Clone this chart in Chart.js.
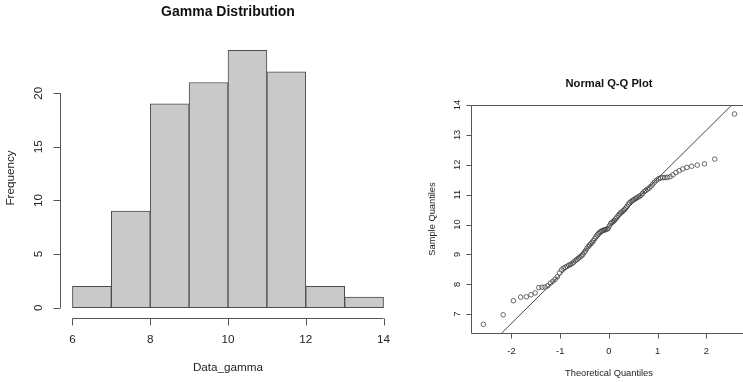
<!DOCTYPE html>
<html>
<head>
<meta charset="utf-8">
<script src="https://cdn.jsdelivr.net/npm/chart.js@4"></script>
<style>
  body { margin: 0; background: #fff; }
  #wrap { position: relative; width: 743px; height: 382px; overflow: hidden; }
  canvas { position: absolute; top: 0; }
</style>
</head>
<body>
<div id="wrap">
  <canvas id="hist" width="400" height="382" style="left:0"></canvas>
  <canvas id="qq" width="343" height="382" style="left:400px"></canvas>
</div>
<script>
// histogram data
var breaks = [6, 7, 8, 9, 10, 11, 12, 13, 14];
var counts = [2, 9, 19, 21, 24, 22, 2, 1];
var histXTicks = [6, 8, 10, 12, 14];
var histYTicks = [0, 5, 10, 15, 20];

// normal Q-Q data (sorted sample vs theoretical quantiles)
var theoretical = [
  -2.576, -2.170, -1.960, -1.812, -1.695, -1.598, -1.514, -1.440, -1.372, -1.311,
  -1.254, -1.200, -1.150, -1.103, -1.058, -1.015, -0.974, -0.935, -0.897, -0.860,
  -0.824, -0.789, -0.755, -0.723, -0.690, -0.659, -0.628, -0.598, -0.568, -0.539,
  -0.510, -0.482, -0.454, -0.426, -0.399, -0.372, -0.345, -0.319, -0.292, -0.266,
  -0.240, -0.215, -0.189, -0.164, -0.138, -0.113, -0.088, -0.063, -0.038, -0.0125,
  0.0125, 0.038, 0.063, 0.088, 0.113, 0.138, 0.164, 0.189, 0.215, 0.240,
  0.266, 0.292, 0.319, 0.345, 0.372, 0.399, 0.426, 0.454, 0.482, 0.510,
  0.539, 0.568, 0.598, 0.628, 0.659, 0.690, 0.723, 0.755, 0.789, 0.824,
  0.860, 0.897, 0.935, 0.974, 1.015, 1.058, 1.103, 1.150, 1.200, 1.254,
  1.311, 1.372, 1.440, 1.514, 1.598, 1.695, 1.812, 1.960, 2.170, 2.576
];
var sample = [
  6.66, 6.98, 7.45, 7.57, 7.58, 7.65, 7.71, 7.89, 7.90, 7.91,
  7.95, 8.04, 8.10, 8.17, 8.25, 8.38, 8.48, 8.54, 8.57, 8.60,
  8.64, 8.66, 8.70, 8.74, 8.79, 8.83, 8.87, 8.91, 8.95, 8.99,
  9.06, 9.12, 9.20, 9.26, 9.31, 9.36, 9.40, 9.46, 9.53, 9.59,
  9.65, 9.70, 9.74, 9.77, 9.79, 9.81, 9.82, 9.83, 9.85, 9.88,
  9.96, 10.04, 10.07, 10.10, 10.14, 10.19, 10.24, 10.30, 10.35, 10.39,
  10.42, 10.46, 10.50, 10.55, 10.61, 10.68, 10.73, 10.77, 10.80, 10.83,
  10.86, 10.89, 10.92, 10.95, 10.98, 11.04, 11.10, 11.14, 11.18, 11.22,
  11.28, 11.35, 11.42, 11.48, 11.53, 11.56, 11.57, 11.57, 11.58, 11.60,
  11.66, 11.74, 11.80, 11.86, 11.91, 11.95, 11.99, 12.03, 12.19, 13.70
];
var lineX = [-2.2, 2.52];
var lineY = [6.37, 14.0];
var qqXTicks = [-2, -1, 0, 1, 2];
var qqYTicks = [7, 8, 9, 10, 11, 12, 13, 14];

// draws base-graphics style axes, box and titles
var rAxes = {
  id: 'rAxes',
  afterDraw: function (chart, args, o) {
    var ctx = chart.ctx, a = chart.chartArea;
    var xs = chart.scales.x, ys = chart.scales.y;
    ctx.save();
    ctx.strokeStyle = o.lineColor;
    ctx.lineWidth = 1;
    ctx.fillStyle = o.textColor;
    ctx.font = o.font;

    var yb = Math.round(o.xAxisY) + 0.5;
    var xl = Math.round(o.yAxisX) + 0.5;

    ctx.beginPath();
    if (o.box) {
      ctx.moveTo(chart.width + 5, Math.round(a.top) + 0.5);
      ctx.lineTo(xl, Math.round(a.top) + 0.5);
      ctx.lineTo(xl, yb);
      ctx.lineTo(chart.width + 5, yb);
    } else {
      ctx.moveTo(xs.getPixelForValue(o.xTicks[0]), yb);
      ctx.lineTo(xs.getPixelForValue(o.xTicks[o.xTicks.length - 1]), yb);
      ctx.moveTo(xl, ys.getPixelForValue(o.yTicks[0]));
      ctx.lineTo(xl, ys.getPixelForValue(o.yTicks[o.yTicks.length - 1]));
    }
    o.xTicks.forEach(function (t) {
      var px = Math.round(xs.getPixelForValue(t)) + 0.5;
      ctx.moveTo(px, yb);
      ctx.lineTo(px, yb + o.tick);
    });
    o.yTicks.forEach(function (t) {
      var py = Math.round(ys.getPixelForValue(t)) + 0.5;
      ctx.moveTo(xl, py);
      ctx.lineTo(xl - o.tick, py);
    });
    ctx.stroke();

    ctx.textAlign = 'center';
    ctx.textBaseline = 'middle';
    o.xTicks.forEach(function (t) {
      ctx.fillText(String(t), xs.getPixelForValue(t), o.xLabelY);
    });
    o.yTicks.forEach(function (t) {
      ctx.save();
      ctx.translate(o.yLabelX, ys.getPixelForValue(t));
      ctx.rotate(-Math.PI / 2);
      ctx.fillText(String(t), 0, 0);
      ctx.restore();
    });

    ctx.fillText(o.xTitle, o.centerX, o.xTitleY);
    ctx.save();
    ctx.translate(o.yTitleX, o.yTitleY);
    ctx.rotate(-Math.PI / 2);
    ctx.fillText(o.yTitle, 0, 0);
    ctx.restore();

    ctx.font = o.mainFont;
    ctx.fillStyle = '#111';
    ctx.fillText(o.main, o.centerX, o.mainY);
    ctx.restore();
  }
};

var common = {
  responsive: false,
  animation: false,
  events: [],
  plugins: { legend: { display: false }, tooltip: { enabled: false } }
};

// left: histogram
var histData = counts.map(function (c, i) {
  return { x: (breaks[i] + breaks[i + 1]) / 2, y: c };
});

new Chart(document.getElementById('hist').getContext('2d'), {
  type: 'bar',
  data: {
    datasets: [{
      data: histData,
      backgroundColor: '#c9c9c9',
      borderColor: '#4d4d4d',
      borderWidth: 1,
      borderSkipped: false,
      barPercentage: 1,
      categoryPercentage: 1
    }]
  },
  options: Object.assign({}, common, {
    layout: { autoPadding: false, padding: { left: 60, right: 4, top: 40, bottom: 64 } },
    scales: {
      x: { type: 'linear', offset: false, min: 5.68, max: 14.32, display: false },
      y: { type: 'linear', min: -0.96, max: 24.96, display: false }
    },
    plugins: Object.assign({}, common.plugins, {
      rAxes: {
        lineColor: '#555', textColor: '#222',
        font: '11.7px "Liberation Sans", Arial, sans-serif',
        mainFont: 'bold 14px "Liberation Sans", Arial, sans-serif',
        box: false, tick: 7,
        xTicks: histXTicks, yTicks: histYTicks,
        xAxisY: 318, yAxisX: 60,
        xLabelY: 340, yLabelX: 39,
        xTitle: 'Data_gamma', xTitleY: 368,
        yTitle: 'Frequency', yTitleX: 11, yTitleY: 178,
        main: 'Gamma Distribution', mainY: 12, centerX: 228
      }
    })
  }),
  plugins: [rAxes]
});

// right: normal Q-Q plot
var qqPoints = theoretical.map(function (t, i) { return { x: t, y: sample[i] }; });
var qqLine = lineX.map(function (x, i) { return { x: x, y: lineY[i] }; });

new Chart(document.getElementById('qq').getContext('2d'), {
  type: 'scatter',
  data: {
    datasets: [{
      type: 'line',
      data: qqLine,
      borderColor: '#444',
      borderWidth: 1,
      pointRadius: 0,
      fill: false
    }, {
      data: qqPoints,
      pointRadius: 2.3,
      pointBorderWidth: 0.9,
      pointBorderColor: 'rgba(60,60,60,0.85)',
      pointBackgroundColor: 'rgba(0,0,0,0)'
    }]
  },
  options: Object.assign({}, common, {
    layout: { autoPadding: false, padding: { left: 71, right: 0, top: 105, bottom: 49 } },
    scales: {
      x: { type: 'linear', min: -2.83, max: 2.75, display: false },
      y: { type: 'linear', min: 6.37, max: 14.0, display: false }
    },
    plugins: Object.assign({}, common.plugins, {
      rAxes: {
        lineColor: '#555', textColor: '#222',
        font: '9.3px "Liberation Sans", Arial, sans-serif',
        mainFont: 'bold 11.2px "Liberation Sans", Arial, sans-serif',
        box: true, tick: 5,
        xTicks: qqXTicks, yTicks: qqYTicks,
        xAxisY: 333, yAxisX: 71,
        xLabelY: 351, yLabelX: 57,
        xTitle: 'Theoretical Quantiles', xTitleY: 373,
        yTitle: 'Sample Quantiles', yTitleX: 32, yTitleY: 219,
        main: 'Normal Q-Q Plot', mainY: 84, centerX: 209
      }
    })
  }),
  plugins: [rAxes]
});
</script>
</body>
</html>
